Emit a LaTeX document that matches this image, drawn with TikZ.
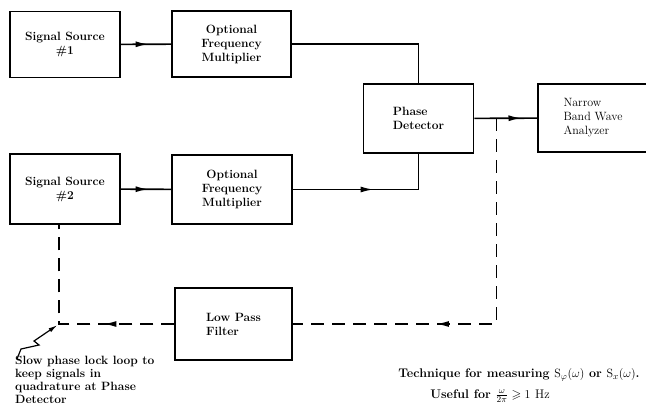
\documentclass[tikz,border=0pt]{standalone}
\usepackage{amssymb}
\usetikzlibrary{positioning,arrows.meta,calc,decorations.markings}
\tikzset{
  fig/.style={font=\fontsize{12}{14}\selectfont\bfseries},
  box/.style={draw,line width=1.5pt,minimum width=110pt,minimum height=66pt,
              align=center,inner sep=2pt},
  ln/.style={line width=1.6pt},
  dashln/.style={ln,dash pattern=on 13pt off 8pt},
  midarr/.style={postaction={decorate},decoration={markings,
      mark=at position #1 with {\arrow{Latex[length=13pt,width=6pt]}}}},
  zap/.style={-{Latex[length=9pt,width=4.5pt]},line width=1.2pt,shorten >=2pt},
  lbl/.style={inner sep=1pt,font=\fontsize{12.5}{14}\selectfont\bfseries},
  remark/.style={font=\fontsize{12}{13}\selectfont\bfseries,align=left,inner sep=1pt},
}

\begin{document}
\begin{tikzpicture}[x=1pt,y=-1pt,fig]
\useasboundingbox (0,0) rectangle (646,413);

% --- upper chain
\node[box] (ss1) at (65,44.5) {Signal Source\\\#1};
\node[box,minimum width=119pt] (ofm1) at (231.5,44) {Optional\\Frequency\\Multiplier};
\node[box,align=left,minimum height=69pt] (pd) at (418.5,118.5) {Phase\\Detector};
\node[box,align=left,minimum height=68pt,font=\fontsize{12}{14}\selectfont\mdseries]
      (nbwa) at (593,118) {Narrow\\Band Wave\\Analyzer};

% --- lower chain
\node[box,minimum height=70pt] (ss2) at (65,189) {Signal Source\\\#2};
\node[box,minimum width=120pt,minimum height=69pt] (ofm2) at (232,189.5)
      {Optional\\Frequency\\Multiplier};
\node[box,minimum width=117pt,minimum height=72pt,align=left] (lpf) at (233.5,324)
      {Low Pass\\Filter};

\draw[ln,midarr=0.55] (ss1) -- (ofm1);
\draw[ln] (ofm1) -| (pd);
\draw[ln,midarr=0.55] (ss2) -- (ofm2);
\draw[ln,midarr=0.5] (ofm2) -| (pd);
\draw[ln,midarr=0.75] (pd) -- (nbwa);

% --- slow lock loop (dashed)
\coordinate (tap) at ($(pd.east)!0.35!(nbwa.west)$);
\coordinate (turn) at (tap |- lpf);
\coordinate (corner) at ($(ss2.south |- lpf)+(-6,0)$);
\draw[dashln,midarr=0.65] (tap) -- (turn) -- (lpf);
\draw[dashln,midarr=0.33] (lpf) -- (corner) -- (corner |- ss2.south);

\node[remark,anchor=north west] (pll) at (14,355)
      {Slow phase lock loop to\\keep signals in\\quadrature at Phase\\Detector};
\draw[zap] ($(pll.north west)+(3,4)$) -- ++(4,-10) -- ++(18,-4) -- ++(-5,-4) -- (corner);

% --- caption
\node[lbl] (cap1) at (519,375)
      {Technique for measuring $\mathrm{S}_{\varphi}(\omega)$ or $\mathrm{S}_x(\omega)$.};
\node[lbl] (cap2) at (490,396)
      {Useful for $\frac{\omega}{2\pi}\geqslant 1$ {\mdseries Hz}};
\end{tikzpicture}
\end{document}
